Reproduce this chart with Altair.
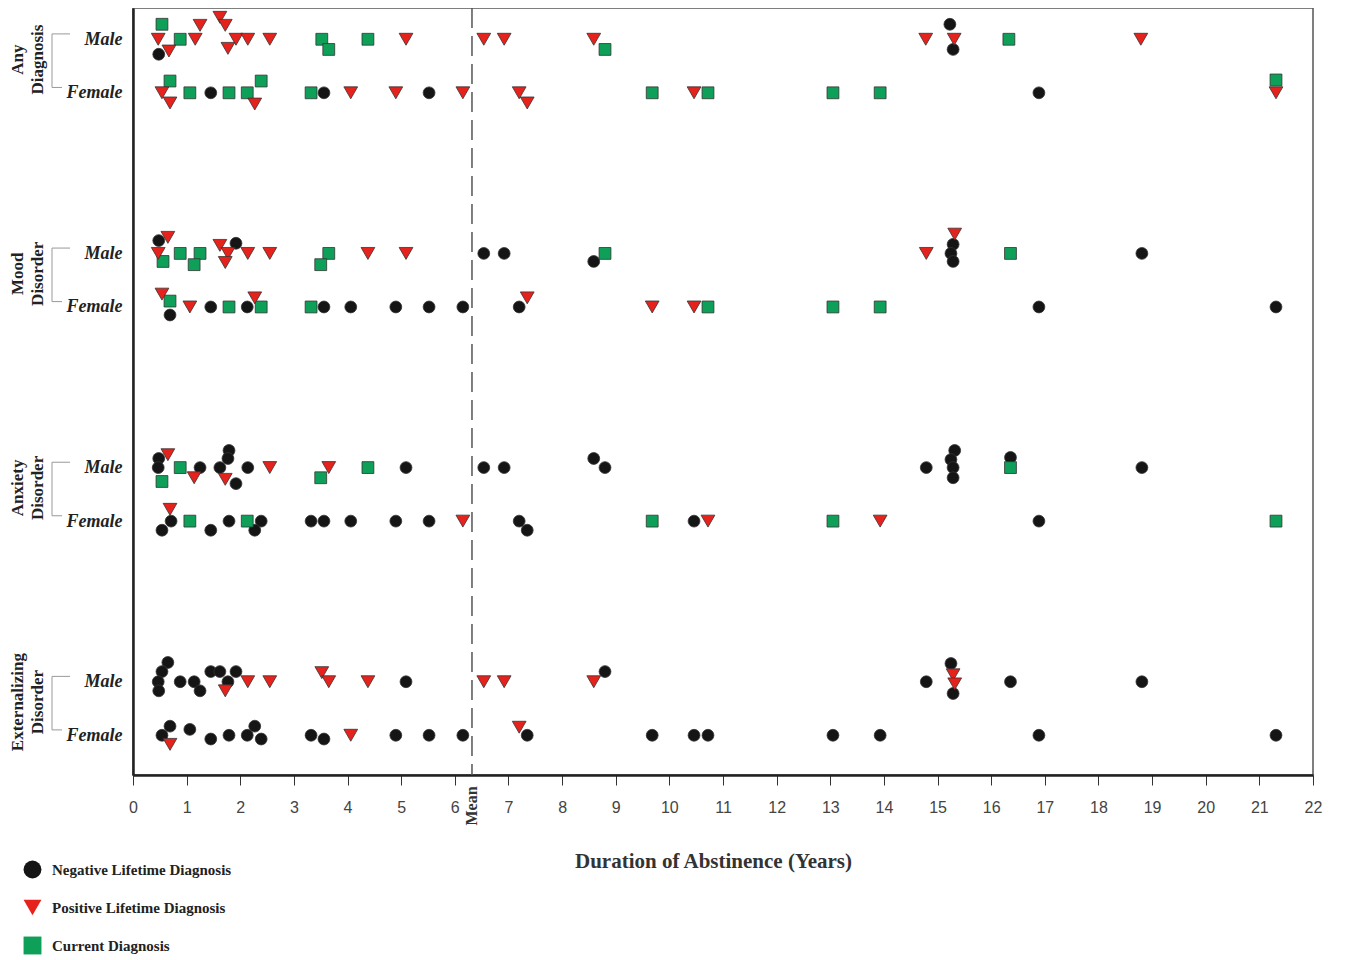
import altair as alt
import pandas as pd

# ---- data: (years of abstinence, diagnosis kind, vertical dodge in row units) ----
# kinds: N = negative lifetime, P = positive lifetime, C = current diagnosis
any_male = [(0.54,"C",-0.28),(1.25,"P",-0.26),(1.62,"P",-0.41),(1.72,"P",-0.26),
            (0.47,"P",0),(0.88,"C",0),(1.16,"P",0),(1.92,"P",0),(2.14,"P",0),(2.55,"P",0),
            (1.77,"P",0.17),(0.48,"N",0.28),(0.67,"P",0.22),
            (3.52,"C",0),(3.65,"C",0.19),(4.38,"C",0),(5.09,"P",0),(6.54,"P",0),(6.92,"P",0),
            (8.59,"P",0),(8.80,"C",0.19),(14.78,"P",0),(15.23,"N",-0.28),(15.29,"N",0.19),
            (15.31,"P",0),(16.33,"C",0),(18.79,"P",0)]
any_female = [(0.54,"P",0),(0.69,"C",-0.22),(0.69,"P",0.19),(1.06,"C",0),(1.45,"N",0),
              (1.79,"C",0),(2.13,"C",0),(2.39,"C",-0.22),(2.27,"P",0.21),(3.32,"C",0),
              (3.56,"N",0),(4.06,"P",0),(4.90,"P",0),(5.52,"N",0),(6.15,"P",0),(7.20,"P",0),
              (7.35,"P",0.19),(9.68,"C",0),(10.46,"P",0),(10.72,"C",0),(13.05,"C",0),
              (13.93,"C",0),(16.89,"N",0),(21.31,"C",-0.24),(21.31,"P",0)]
mood_male = [(0.48,"N",-0.24),(0.65,"P",-0.30),(0.47,"P",0),(0.56,"C",0.15),(0.88,"C",0),
             (1.25,"C",0),(1.14,"C",0.21),(1.62,"P",-0.15),(1.92,"N",-0.19),(1.77,"P",0),
             (1.72,"P",0.17),(2.14,"P",0),(2.55,"P",0),(3.65,"C",0),(3.50,"C",0.21),
             (4.38,"P",0),(5.09,"P",0),(6.54,"N",0),(6.92,"N",0),(8.59,"N",0.15),(8.80,"C",0),
             (14.79,"P",0),(15.29,"N",-0.17),(15.25,"N",0),(15.29,"N",0.15),(15.32,"P",-0.36),
             (16.36,"C",0),(18.81,"N",0)]
mood_female = [(0.54,"P",-0.24),(0.69,"C",-0.11),(0.69,"N",0.15),(1.06,"P",0),(1.45,"N",0),
               (1.79,"C",0),(2.13,"N",0),(2.27,"P",-0.17),(2.39,"C",0),(3.32,"C",0),
               (3.56,"N",0),(4.06,"N",0),(4.90,"N",0),(5.52,"N",0),(6.15,"N",0),(7.20,"N",0),
               (7.35,"P",-0.17),(9.68,"P",0),(10.46,"P",0),(10.72,"C",0),(13.05,"C",0),
               (13.93,"C",0),(16.89,"N",0),(21.31,"N",0)]
anx_male = [(0.48,"N",-0.17),(0.65,"P",-0.24),(0.47,"N",0),(0.88,"C",0),(0.54,"C",0.26),
            (1.25,"N",0),(1.14,"P",0.19),(1.79,"N",-0.32),(1.77,"N",-0.17),(1.62,"N",0),
            (1.72,"P",0.22),(1.92,"N",0.30),(2.14,"N",0),(2.55,"P",0),(3.65,"P",0),
            (3.50,"C",0.19),(4.38,"C",0),(5.09,"N",0),(6.54,"N",0),(6.92,"N",0),
            (8.59,"N",-0.17),(8.80,"N",0),(14.79,"N",0),(15.32,"N",-0.32),(15.25,"N",-0.15),
            (15.29,"N",0),(15.29,"N",0.19),(16.36,"N",-0.19),(16.36,"C",0),(18.81,"N",0)]
anx_female = [(0.69,"P",-0.22),(0.71,"N",0),(0.54,"N",0.17),(1.06,"C",0),(1.45,"N",0.17),
              (1.79,"N",0),(2.13,"C",0),(2.39,"N",0),(2.27,"N",0.17),(3.32,"N",0),
              (3.56,"N",0),(4.06,"N",0),(4.90,"N",0),(5.52,"N",0),(6.15,"P",0),(7.20,"N",0),
              (7.35,"N",0.17),(9.68,"C",0),(10.46,"N",0),(10.72,"P",0),(13.05,"C",0),
              (13.93,"P",0),(16.89,"N",0),(21.31,"C",0)]
ext_male = [(0.65,"N",-0.36),(0.54,"N",-0.19),(0.47,"N",0),(0.48,"N",0.17),(0.88,"N",0),
            (1.14,"N",0),(1.25,"N",0.17),(1.45,"N",-0.19),(1.62,"N",-0.19),(1.77,"N",0),
            (1.72,"P",0.17),(1.92,"N",-0.19),(2.14,"P",0),(2.55,"P",0),(3.52,"P",-0.17),
            (3.65,"P",0),(4.38,"P",0),(5.09,"N",0),(6.54,"P",0),(6.92,"P",0),(8.59,"P",0),
            (8.80,"N",-0.19),(14.79,"N",0),(15.25,"N",-0.34),(15.29,"N",0.22),
            (15.29,"P",-0.13),(15.32,"P",0.04),(16.36,"N",0),(18.81,"N",0)]
ext_female = [(0.69,"N",-0.17),(0.54,"N",0),(0.69,"P",0.17),(1.06,"N",-0.11),(1.45,"N",0.07),
              (1.79,"N",0),(2.13,"N",0),(2.27,"N",-0.17),(2.39,"N",0.07),(3.32,"N",0),
              (3.56,"N",0.07),(4.06,"P",0),(4.90,"N",0),(5.52,"N",0),(6.15,"N",0),
              (7.20,"P",-0.15),(7.35,"N",0),(9.68,"N",0),(10.46,"N",0),(10.72,"N",0),
              (13.05,"N",0),(13.93,"N",0),(16.89,"N",0),(21.31,"N",0)]

groups = ["Any\nDiagnosis", "Mood\nDisorder", "Anxiety\nDisorder", "Externalizing\nDisorder"]
rows = [(0, "Male", any_male), (0, "Female", any_female),
        (1, "Male", mood_male), (1, "Female", mood_female),
        (2, "Male", anx_male), (2, "Female", anx_female),
        (3, "Male", ext_male), (3, "Female", ext_female)]
kind_names = {"N": "Negative Lifetime Diagnosis", "P": "Positive Lifetime Diagnosis",
              "C": "Current Diagnosis"}
kind_order = ["Negative Lifetime Diagnosis", "Positive Lifetime Diagnosis", "Current Diagnosis"]
MEAN = 6.32
x_ticks = list(range(0, 23))

# ---- build tables ----
recs = []
for g, sex, pts in rows:
    base = 4 * g + (0 if sex == "Male" else 1)
    for x, k, d in pts:
        recs.append({"years": x, "kind": kind_names[k], "ypos": base + d,
                     "order": {"N": 0, "C": 1, "P": 2}[k]})
df = pd.DataFrame(recs)
grp = pd.DataFrame({"label": groups,
                    "top": [4 * g - 0.1 for g in range(4)],
                    "bot": [4 * g + 0.9 for g in range(4)],
                    "ly": [4 * g + 0.38 for g in range(4)]})
mean_df = pd.DataFrame({"m": [MEAN]})

yscale = alt.Scale(domain=[-0.584, 13.742], reverse=True, nice=False, zero=False)
xscale = alt.Scale(domain=[0, 22], nice=False, zero=False)
yaxis = alt.Axis(values=[0, 1, 4, 5, 8, 9, 12, 13],
                 labelExpr="datum.value % 4 == 0 ? 'Male' : 'Female'",
                 ticks=False, tickSize=0, grid=False, domainColor="#222", domainWidth=2.5,
                 labelFont="Liberation Serif", labelFontStyle="italic", labelFontWeight="bold",
                 labelFontSize=18, labelColor="#222", labelPadding=11, title=None)
xaxis = alt.Axis(values=x_ticks, format="d", tickSize=10, tickColor="#333", tickWidth=1,
                 labelFont="Liberation Sans", labelFontSize=16, labelColor="#444",
                 labelPadding=14, labelFlush=False, grid=False,
                 domainColor="#222", domainWidth=2.5,
                 title="Duration of Abstinence (Years)", titleFont="Liberation Serif",
                 titleFontWeight="bold", titleFontSize=21, titleColor="#333",
                 titleX=580, titleY=86, titleBaseline="middle")

legend = alt.Legend(orient="none", legendX=-110, legendY=852, title=None,
                    symbolSize=320, labelFont="Liberation Serif",
                    labelFontWeight="bold", labelFontSize=15, labelLimit=0,
                    labelColor="#222", rowPadding=16, labelOffset=10,
                    padding=0, symbolStrokeColor="#333", symbolStrokeWidth=1)

points = alt.Chart(df).mark_point(filled=True, opacity=1, stroke="#333",
                                  strokeWidth=0.8).encode(
    x=alt.X("years:Q", scale=xscale, axis=xaxis),
    y=alt.Y("ypos:Q", scale=yscale, axis=yaxis),
    shape=alt.Shape("kind:N", scale=alt.Scale(domain=kind_order,
                    range=["circle", "triangle-down", "square"]), legend=legend),
    fill=alt.Fill("kind:N", scale=alt.Scale(domain=kind_order,
                  range=["#151515", "#e5221c", "#0e9f58"]), legend=legend),
    size=alt.condition("datum.kind == 'Positive Lifetime Diagnosis'",
                       alt.value(190), alt.value(140)),
    order=alt.Order("order:Q"),
)

mean_rule = alt.Chart(mean_df).mark_rule(strokeDash=[20, 8], color="#555",
                                         strokeWidth=1.5).encode(
    x=alt.X("m:Q", scale=xscale, axis=xaxis))
mean_text = alt.Chart(mean_df).mark_text(text="Mean", angle=270, font="Liberation Serif",
                                         fontWeight="bold", fontSize=16, color="#333",
                                         align="center", baseline="middle").encode(
    x=alt.X("m:Q", scale=xscale, axis=xaxis), y=alt.value(798))

br_v = alt.Chart(grp).mark_rule(color="#999", strokeWidth=1).encode(
    x=alt.value(-81), y=alt.Y("top:Q", scale=yscale, axis=yaxis), y2="bot:Q")
br_t = alt.Chart(grp).mark_rule(color="#999", strokeWidth=1).encode(
    x=alt.value(-81), x2=alt.value(-63), y=alt.Y("top:Q", scale=yscale, axis=yaxis))
br_b = alt.Chart(grp).mark_rule(color="#999", strokeWidth=1).encode(
    x=alt.value(-81), x2=alt.value(-71), y=alt.Y("bot:Q", scale=yscale, axis=yaxis))
glabels = alt.Chart(grp).mark_text(angle=270, lineBreak="\n", lineHeight=20,
                                   font="Liberation Serif", fontWeight="bold", fontSize=17,
                                   color="#222", align="center", baseline="middle").encode(
    x=alt.value(-115), y=alt.Y("ly:Q", scale=yscale, axis=yaxis), text="label:N")

chart = alt.layer(br_v, br_t, br_b, glabels, mean_rule, points, mean_text).properties(
    width=1180, height=767,
    padding={"left": 125, "top": 0, "right": 20, "bottom": 182},
    autosize=alt.AutoSizeParams(type="none"),
).configure_view(stroke="#555", strokeWidth=1.5)

chart.save("out.html", embed_options={"renderer": "svg", "actions": False})
